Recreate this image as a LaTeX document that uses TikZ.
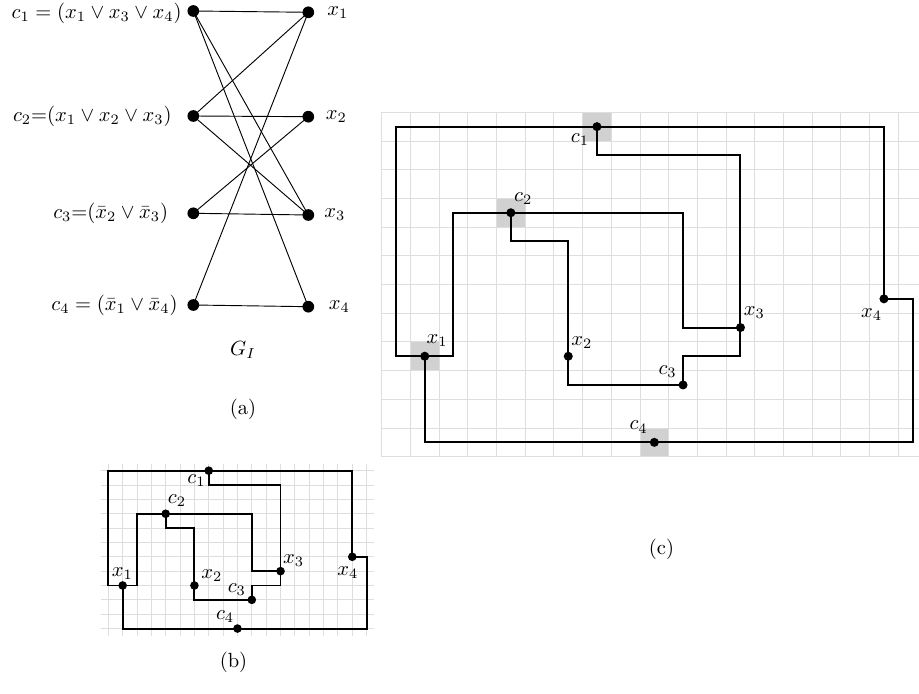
\documentclass[tikz,border=0pt]{standalone}
\usetikzlibrary{calc}
\begin{document}
\begin{tikzpicture}[x=0.487pt,y=-0.487pt,
  adot/.style={circle,fill=black,inner sep=0pt,minimum size=5.7pt},
  cdot/.style={circle,fill=black,inner sep=0pt,minimum size=4.4pt},
  bdot/.style={circle,fill=black,inner sep=0pt,minimum size=4.2pt},
  aedge/.style={line width=0.45pt},
  wire/.style={line width=1pt},
  bwire/.style={line width=0.95pt},
  gridline/.style={draw=black!13,line width=0.45pt},
  cellfill/.style={fill=black!18},
  lab/.style={inner sep=0pt}]
\useasboundingbox (0,0) rectangle (919,694);

% ---------- (a) ----------
\node[adot] (ac1) at (193.3,11) {};
\node[adot] (ac2) at (193.3,116) {};
\node[adot] (ac3) at (193.3,213.3) {};
\node[adot] (ac4) at (193.3,305) {};
\node[adot] (ax1) at (308.3,12.3) {};
\node[adot] (ax2) at (308.3,116.7) {};
\node[adot] (ax3) at (308.3,215) {};
\node[adot] (ax4) at (308.3,306.7) {};
\draw[aedge] (ac1.center) -- (ax1.center);
\draw[aedge] (ac1.center) -- (ax3.center);
\draw[aedge] (ac1.center) -- (ax4.center);
\draw[aedge] (ac2.center) -- (ax1.center);
\draw[aedge] (ac2.center) -- (ax2.center);
\draw[aedge] (ac2.center) -- (ax3.center);
\draw[aedge] (ac3.center) -- (ax2.center);
\draw[aedge] (ac3.center) -- (ax3.center);
\draw[aedge] (ac4.center) -- (ax1.center);
\draw[aedge] (ac4.center) -- (ax4.center);
\node[lab,anchor=east] (lac1) at (182,13) {$c_1 = (x_1 \vee x_3 \vee x_4)$};
\node[lab,anchor=east] (lac2) at (172,116.5) {$c_2{=}(x_1 \vee x_2 \vee x_3)$};
\node[lab,anchor=east] (lac3) at (168.5,213.5) {$c_3{=}(\bar{x}_2 \vee \bar{x}_3)$};
\node[lab,anchor=east] (lac4) at (178,305.5) {$c_4 = (\bar{x}_1 \vee \bar{x}_4)$};
\node[lab,anchor=west] (lax1) at (327,12.3) {$x_1$};
\node[lab,anchor=west] (lax2) at (325.5,116.7) {$x_2$};
\node[lab,anchor=west] (lax3) at (324,215) {$x_3$};
\node[lab,anchor=west] (lax4) at (328.5,306.7) {$x_4$};
\node[lab] (gi) at (243,350) {$G_I$};
\node[lab] (capa) at (243,409) {(a)};

% ---------- (c) ----------
\begin{scope}[shift={(396.05,126.65)},x=13.977pt,y=-13.977pt]
  \fill[cellfill] (6.5,-0.5) rectangle (7.5,0.5);
  \fill[cellfill] (3.5,2.5) rectangle (4.5,3.5);
  \fill[cellfill] (0.5,7.5) rectangle (1.5,8.5);
  \fill[cellfill] (8.5,10.5) rectangle (9.5,11.5);
  \foreach \i in {0,...,18} \draw[gridline] (\i-0.5,-0.5) -- (\i-0.5,11.5);
  \foreach \j in {0,...,12} \draw[gridline] (-0.5,\j-0.5) -- (18.22,\j-0.5);
  \node[cdot] (cc1) at (7,0) {};
  \node[cdot] (cc2) at (4,3) {};
  \node[cdot] (cc3) at (10,9) {};
  \node[cdot] (cc4) at (9,11) {};
  \node[cdot] (cx1) at (1,8) {};
  \node[cdot] (cx2) at (6,8) {};
  \node[cdot] (cx3) at (12,7) {};
  \node[cdot] (cx4) at (17,6) {};
  \draw[wire] (cc1.center) -- (0,0) -- (0,8) -- (cx1.center);
  \draw[wire] (cc1.center) -- (17,0) -- (cx4.center);
  \draw[wire] (cc1.center) -- (7,1) -- (12,1) -- (cx3.center);
  \draw[wire] (cc2.center) -- (2,3) -- (2,8) -- (cx1.center);
  \draw[wire] (cc2.center) -- (10,3) -- (10,7) -- (cx3.center);
  \draw[wire] (cc2.center) -- (4,4) -- (6,4) -- (cx2.center);
  \draw[wire] (cc3.center) -- (10,8) -- (12,8) -- (cx3.center);
  \draw[wire] (cc3.center) -- (6,9) -- (cx2.center);
  \draw[wire] (cc4.center) -- (1,11) -- (cx1.center);
  \draw[wire] (cc4.center) -- (18,11) -- (18,6) -- (cx4.center);
\end{scope}
\node[lab] (lcc1) at ($(cc1)+(-17,13.3)$) {$c_1$};
\node[lab] (lcc2) at ($(cc2)+(12.4,-14.4)$) {$c_2$};
\node[lab] (lcc3) at ($(cc3)+(-15.4,-13.3)$) {$c_3$};
\node[lab] (lcc4) at ($(cc4)+(-15.7,-15.3)$) {$c_4$};
\node[lab] (lcx1) at ($(cx1)+(12.4,-15.3)$) {$x_1$};
\node[lab] (lcx2) at ($(cx2)+(13.7,-13.4)$) {$x_2$};
\node[lab] (lcx3) at ($(cx3)+(14,-14.6)$) {$x_3$};
\node[lab] (lcx4) at ($(cx4)+(-12.3,15.7)$) {$x_4$};
\node[lab] (capc) at (661.5,549.5) {(c)};

% ---------- (b) ----------
\begin{scope}[shift={(108.3,470.7)},x=6.9885pt,y=-6.9885pt]
  \foreach \i in {0,...,18} \draw[gridline] (\i,-0.5) -- (\i,11.5);
  \foreach \j in {0,...,11} \draw[gridline] (-0.5,\j) -- (18.5,\j);
  \node[bdot] (bc1) at (7,0) {};
  \node[bdot] (bc2) at (4,3) {};
  \node[bdot] (bc3) at (10,9) {};
  \node[bdot] (bc4) at (9,11) {};
  \node[bdot] (bx1) at (1,8) {};
  \node[bdot] (bx2) at (6,8) {};
  \node[bdot] (bx3) at (12,7) {};
  \node[bdot] (bx4) at (17,6) {};
  \draw[bwire] (bc1.center) -- (0,0) -- (0,8) -- (bx1.center);
  \draw[bwire] (bc1.center) -- (17,0) -- (bx4.center);
  \draw[bwire] (bc1.center) -- (7,1) -- (12,1) -- (bx3.center);
  \draw[bwire] (bc2.center) -- (2,3) -- (2,8) -- (bx1.center);
  \draw[bwire] (bc2.center) -- (10,3) -- (10,7) -- (bx3.center);
  \draw[bwire] (bc2.center) -- (4,4) -- (6,4) -- (bx2.center);
  \draw[bwire] (bc3.center) -- (10,8) -- (12,8) -- (bx3.center);
  \draw[bwire] (bc3.center) -- (6,9) -- (bx2.center);
  \draw[bwire] (bc4.center) -- (1,11) -- (bx1.center);
  \draw[bwire] (bc4.center) -- (18,11) -- (18,6) -- (bx4.center);
\end{scope}
\node[lab] (lbc1) at ($(bc1)+(-12.3,10)$) {$c_1$};
\node[lab] (lbc2) at ($(bc2)+(11.3,-13.3)$) {$c_2$};
\node[lab] (lbc3) at ($(bc3)+(-15,-10)$) {$c_3$};
\node[lab] (lbc4) at ($(bc4)+(-12.3,-12.3)$) {$c_4$};
\node[lab] (lbx1) at ($(bx1)+(-0.4,-11.7)$) {$x_1$};
\node[lab] (lbx2) at ($(bx2)+(17.4,-10)$) {$x_2$};
\node[lab] (lbx3) at ($(bx3)+(13,-11)$) {$x_3$};
\node[lab] (lbx4) at ($(bx4)+(-4.4,16)$) {$x_4$};
\node[lab] (capb) at (233.5,662) {(b)};
\end{tikzpicture}
\end{document}
